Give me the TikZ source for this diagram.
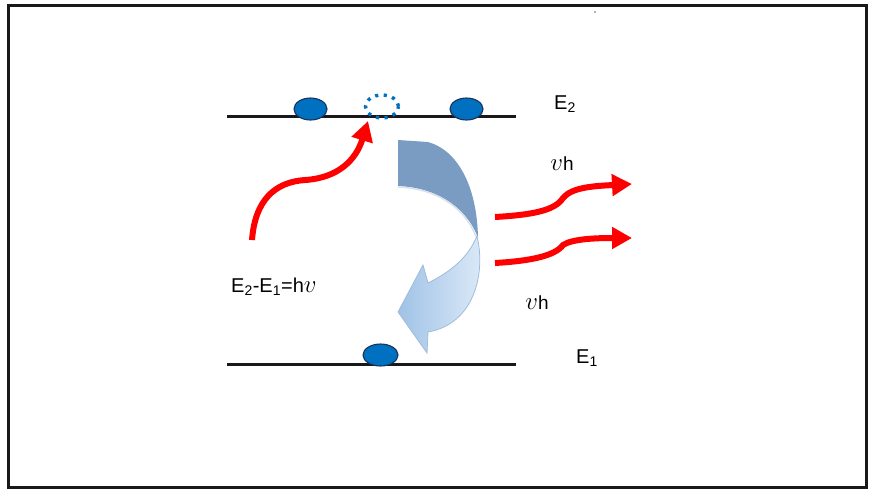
\documentclass[tikz,border=0pt]{standalone}
\usepackage{fontspec}
\setmainfont{Liberation Sans}
\usetikzlibrary{arrows.meta,shapes.geometric}
\definecolor{eblue}{RGB}{0,112,192}
\definecolor{eedge}{RGB}{25,50,90}
\definecolor{topband}{RGB}{122,156,194}
\definecolor{lowL}{RGB}{160,194,230}
\definecolor{lowR}{RGB}{222,235,248}
\definecolor{lowEdge}{RGB}{160,188,218}
\newcommand{\nuv}{{\fontsize{24}{28}\selectfont$v$}}
\tikzset{
  level/.style={line width=3pt, draw=black!90},
  electron/.style={ellipse, draw=eedge, line width=1.1pt, fill=eblue, minimum width=#1, minimum height=22pt, inner sep=0pt},
  hole/.style={ellipse, draw=eblue, line width=3.4pt, dash pattern=on 3.2pt off 5.4pt, minimum width=33pt, minimum height=23pt, inner sep=0pt},
  photon/.style={draw=red, line width=6pt, -{Triangle[length=20pt,width=21pt]}},
  lbl/.style={font=\fontsize{20}{24}\selectfont, inner sep=0pt},
  lbs/.style={font=\fontsize{19}{22}\selectfont, inner sep=0pt},
}
\begin{document}
\begin{tikzpicture}[x=1pt,y=-1pt]
\useasboundingbox (0,0) rectangle (869,490);
% frame
\draw[line width=3pt, black!90] (8,5) rectangle (866,487);
\fill[black!40] (595,12) circle (1.2pt);

% energy levels
\coordinate (t1) at (227,116); \coordinate (t2) at (516,116);
\coordinate (b1) at (227,364); \coordinate (b2) at (516,364);
\draw[level] (t1) -- (t2);
\draw[level] (b1) -- (b2);

% electrons
\node[electron=33pt] (ea) at (310.5,109) {};
\node[electron=33pt] (eb) at (466.5,109) {};
\node[electron=35pt] (ec) at (380.5,355) {};
\node[hole] (h) at (382,106.5) {};

% big curved arrow - top dark part
\fill[topband] (398,140) -- (428,142) .. controls (457,150) and (477,185) .. (478,238)
   .. controls (470,215) and (445,188) .. (398,186) -- cycle;
\draw[line width=1.4pt, white!70!topband] (398,187) .. controls (445,189) and (469,216) .. (476,237);
% lower light part
\shade[left color=lowL, right color=lowR, draw=lowEdge, line width=0.8pt]
  (477,236) .. controls (486,274) and (474,324) .. (428,332) -- (427,353) -- (398,312) -- (423,265) -- (428,283)
  .. controls (450,272) and (468,258) .. (477,236) -- cycle;

% photons
\coordinate (p0) at (252,240);
\coordinate (pm) at (305,180);
\coordinate (p1) at (368,121);
\draw[photon] (p0) .. controls (255,200) and (275,182) .. (pm)
   .. controls (338,178) and (356,160) .. (p1);

\coordinate (r0) at (495,217); \coordinate (rm) at (563,198); \coordinate (r1) at (632,184);
\draw[photon] (r0) .. controls (530,215) and (555,211) .. (rm)
   .. controls (572,187) and (595,186) .. (r1);
\coordinate (s0) at (495,263); \coordinate (sm) at (563,245); \coordinate (s1) at (632,238);
\draw[photon] (s0) .. controls (530,261) and (555,256) .. (sm)
   .. controls (572,239) and (595,238) .. (s1);

% labels
\node[lbl] (E2) at (565,104) {E\textsubscript{2}};
\node[lbl] (E1) at (587,358) {E\textsubscript{1}};
\node[lbl, anchor=west] (eq) at (231,287) {E\textsubscript{2}-E\textsubscript{1}=h\nuv};
\node[lbs] (nh1) at (562,164) {\nuv h};
\node[lbs] (nh2) at (537,303) {\nuv h};
\end{tikzpicture}
\end{document}
